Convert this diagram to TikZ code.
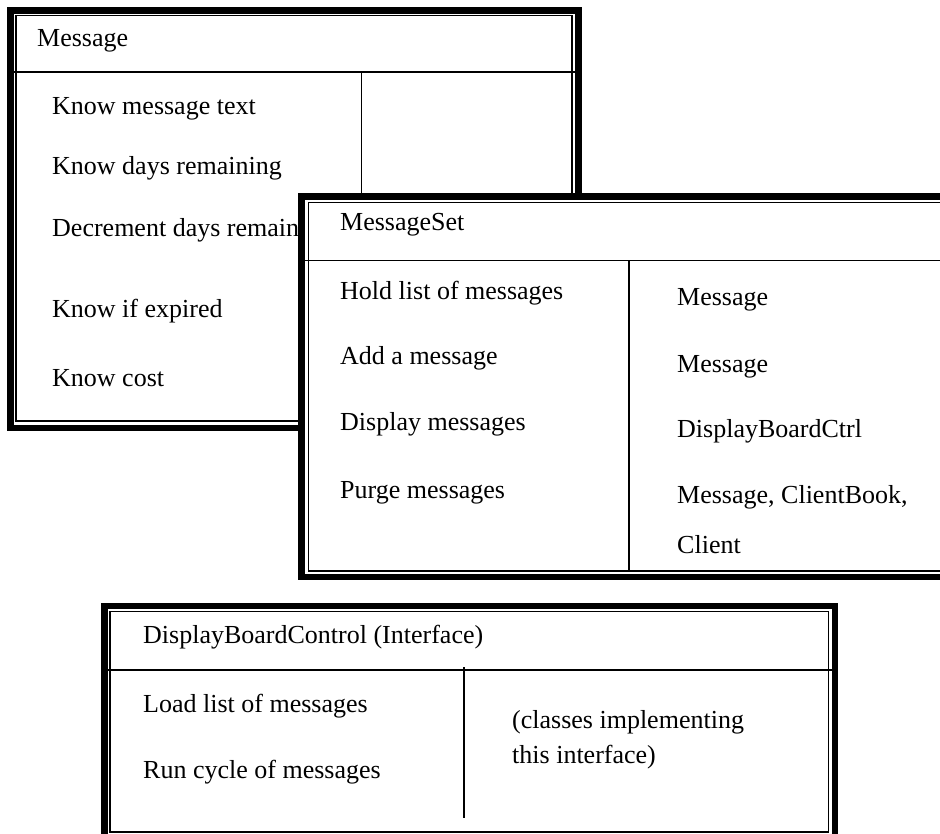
\documentclass[tikz,border=0pt]{standalone}
\usepackage{fontspec}
\setmainfont{Liberation Serif}
\begin{document}
\begin{tikzpicture}[x=1pt,y=-1pt,
  thickframe/.style={line width=6.8pt},
  thinframe/.style={line width=1.6pt},
  rulel/.style={line width=1.6pt},
  lbl/.style={anchor=base west, inner sep=0pt, font=\fontsize{26}{30}\selectfont}]
\useasboundingbox (0,0) rectangle (940,834);

% ---- Box 1: Message
\fill[white] (7,7) rectangle (582,431);
\draw[thickframe] (10.5,10.5) rectangle (578.5,428);
\draw[thinframe] (15.7,15.5) rectangle (571.7,421);
\draw[rulel] (14,72) -- (575,72);
\draw[rulel] (361.5,72) -- (361.5,421);
\node[lbl] (m0) at (37,47) {Message};
\node[lbl] (m1) at (52,115) {Know message text};
\node[lbl] (m2) at (52,175) {Know days remaining};
\node[lbl] (m3) at (52,237) {Decrement days remaining};
\node[lbl] (m4) at (52,318) {Know if expired};
\node[lbl] (m5) at (52,386) {Know cost};

% ---- Box 2: MessageSet
\fill[white] (298.3,193) rectangle (980,581);
\draw[thickframe] (301.7,196.2) rectangle (975,577);
\draw[thinframe] (308.3,202.5) rectangle (965,571.2);
\draw[rulel] (305,260.5) -- (960,260.5);
\draw[rulel] (628.8,260.5) -- (628.8,571.2);
\node[lbl] (s0) at (340,231) {MessageSet};
\node[lbl] (s1) at (340,300) {Hold list of messages};
\node[lbl] (s2) at (340,365) {Add a message};
\node[lbl] (s3) at (340,430) {Display messages};
\node[lbl] (s4) at (340,498) {Purge messages};
\node[lbl] (c1) at (677,306) {Message};
\node[lbl] (c2) at (677,372) {Message};
\node[lbl] (c3) at (677,437) {DisplayBoardCtrl};
\node[lbl] (c4) at (677,503) {Message, ClientBook,};
\node[lbl] (c5) at (677,553) {Client};

% ---- Box 3: DisplayBoardControl
\fill[white] (101,602.7) rectangle (838.3,850);
\draw[thickframe] (104.2,606) rectangle (835,845);
\draw[thinframe] (110.2,611.5) rectangle (828.5,831.8);
\draw[rulel] (107,670) -- (832,670);
\draw[rulel] (464,667) -- (464,818);
\node[lbl] (d0) at (143,643) {DisplayBoardControl (Interface)};
\node[lbl] (d1) at (143,712) {Load list of messages};
\node[lbl] (d2) at (143,778) {Run cycle of messages};
\node[lbl] (e1) at (512,728) {(classes implementing};
\node[lbl] (e2) at (512,763) {this interface)};
\end{tikzpicture}
\end{document}
